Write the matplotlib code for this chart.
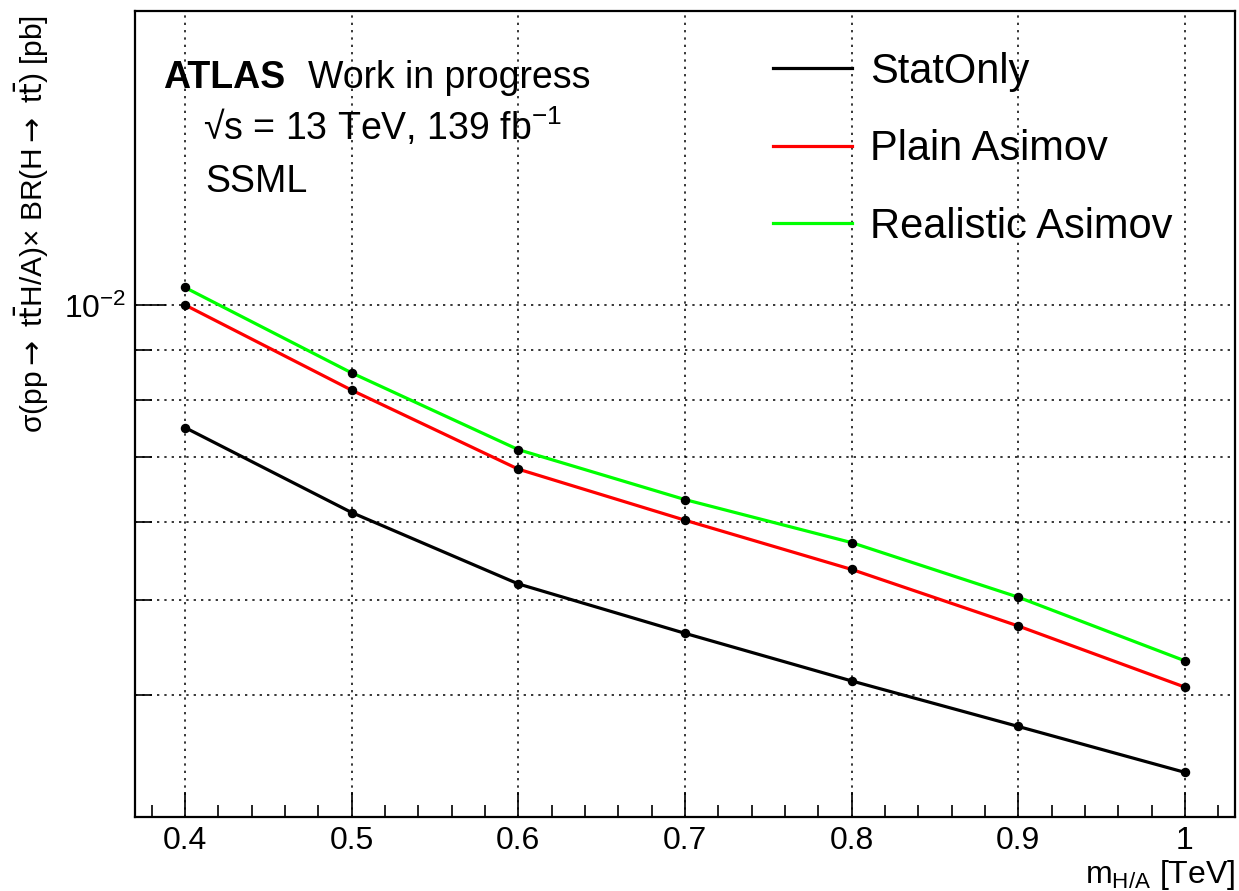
import numpy as np
import matplotlib
matplotlib.use("Agg")
import matplotlib.pyplot as plt
from matplotlib.ticker import FixedLocator, NullFormatter, MultipleLocator

plt.rcParams['font.family'] = ['Liberation Sans', 'DejaVu Sans']
plt.rcParams['mathtext.fontset'] = 'custom'
plt.rcParams['mathtext.rm'] = 'Liberation Sans'
plt.rcParams['mathtext.it'] = 'Liberation Sans'
plt.rcParams['mathtext.bf'] = 'Liberation Sans:bold'

# masses [TeV]
mass = [0.4, 0.5, 0.6, 0.7, 0.8, 0.9, 1.0]
# limits [pb]
stat_only = [0.00750, 0.00614, 0.00519, 0.00462, 0.00413, 0.00371, 0.00333]
plain_asimov = [0.01001, 0.00819, 0.00680, 0.00603, 0.00537, 0.00470, 0.00407]
real_asimov = [0.01043, 0.00853, 0.00712, 0.00633, 0.00572, 0.00503, 0.00433]

labels = ["StatOnly", "Plain Asimov", "Realistic Asimov"]
colors = ["black", "#ff0000", "#00ff00"]

W, H = 1239, 891
fig = plt.figure(figsize=(W/100, H/100), dpi=100)
ax = fig.add_axes([135/W, 1-816.7/H, 1100/W, (816.7-11)/H])

for yv, lab, col in zip([stat_only, plain_asimov, real_asimov], labels, colors):
    ax.plot(mass, yv, color=col, lw=2.3, label=lab, zorder=3)
    ax.plot(mass, yv, ls='none', marker='o', ms=5.8, mfc='black', mec='black', zorder=4)

ax.set_yscale('log')
ax.set_xlim(0.37, 1.03)
ax.set_ylim(0.003, 0.02)

ax.xaxis.set_minor_locator(MultipleLocator(0.02))
ax.set_xticks([0.4, 0.5, 0.6, 0.7, 0.8, 0.9, 1.0])
ax.set_xticklabels(["0.4", "0.5", "0.6", "0.7", "0.8", "0.9", "1"])

ax.yaxis.set_major_locator(FixedLocator([0.01]))
ax.yaxis.set_minor_locator(FixedLocator([0.003, 0.004, 0.005, 0.006, 0.007, 0.008, 0.009, 0.02]))
ax.yaxis.set_minor_formatter(NullFormatter())
ax.set_yticklabels([r'$10^{-2}$'])

ax.tick_params(axis='both', which='both', direction='in', top=False, right=False, width=1.2)
ax.tick_params(axis='x', which='major', length=18, labelsize=23, pad=7)
ax.tick_params(axis='x', which='minor', length=9)
ax.tick_params(axis='y', which='major', length=22, labelsize=23, pad=6)
ax.tick_params(axis='y', which='minor', length=12)
for s in ax.spines.values():
    s.set_linewidth(1.6)

gstyle = dict(color='black', lw=1.1, linestyle=(0, (1.5, 3.3)))
ax.grid(True, axis='x', which='major', **gstyle)
ax.grid(True, axis='y', which='both', **gstyle)
ax.set_axisbelow(True)

# ATLAS label
fig.text(163/W, 1-88/H, "ATLAS", fontsize=27, fontweight='bold', va='baseline')
fig.text(308/W, 1-88/H, "Work in progress", fontsize=27, va='baseline')
fig.text(203/W, 1-140/H, "√s = 13 TeV, 139 fb$^{-1}$", fontsize=27, va='baseline')
fig.text(205/W, 1-192/H, "SSML", fontsize=27, va='baseline')

# axis titles
fig.text(1235/W, 1-883/H, r"m$_{H/A}$ [TeV]", fontsize=23, ha='right', va='baseline')
fig.text(32/W, 1-15/H, "σ(pp${\\rightarrow}$ t$\\bar{\\mathrm{t}}$H/A)× BR(H${\\rightarrow}$ t$\\bar{\\mathrm{t}}$) [pb]",
         fontsize=21.5, rotation=90, ha='center', va='top', math_fontfamily='dejavusans')

leg = ax.legend(loc='upper left', bbox_to_anchor=(773/W, 1-52/H), bbox_transform=fig.transFigure,
                frameon=False, fontsize=30, handlelength=1.9, handletextpad=0.42,
                labelspacing=0.9, borderpad=0, borderaxespad=0)
for ln in leg.get_lines():
    ln.set_linewidth(2.3)

fig.savefig("out.png", dpi=100)
